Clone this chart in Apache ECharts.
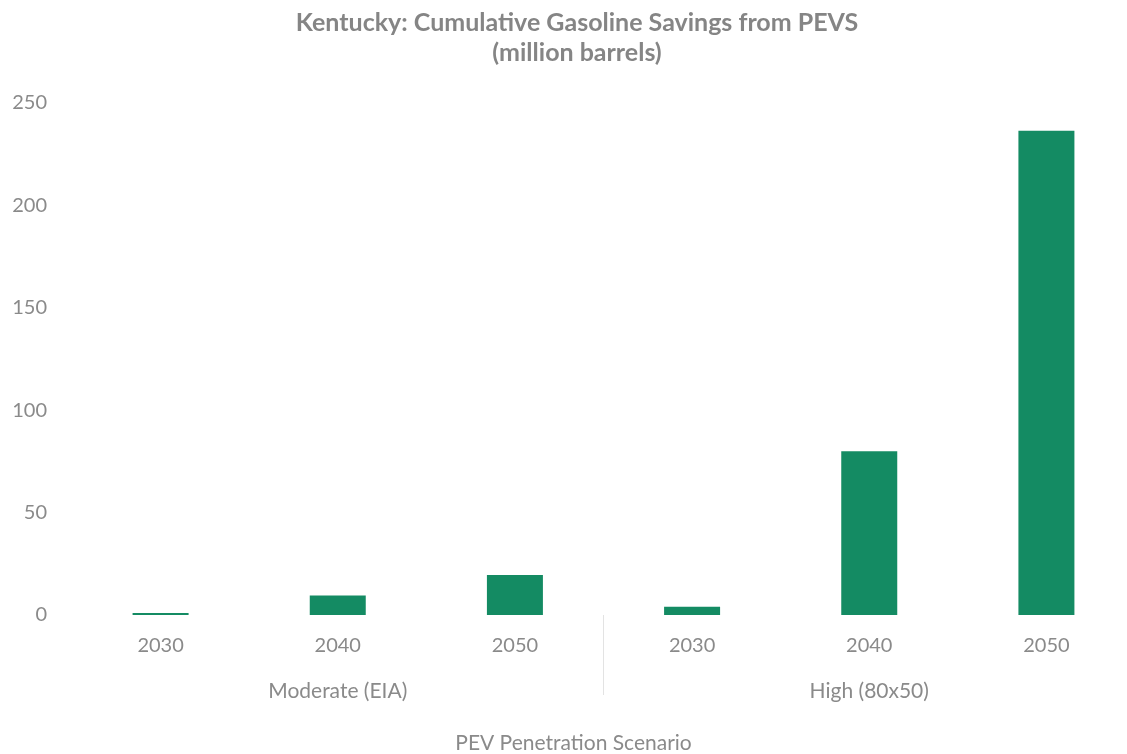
<!DOCTYPE html>
<html>
<head>
<meta charset="utf-8">
<title>Kentucky: Cumulative Gasoline Savings from PEVS</title>
<script src="https://cdn.jsdelivr.net/npm/echarts@6/dist/echarts.min.js"></script>
<style>
  html, body { margin: 0; padding: 0; background: #ffffff; overflow: hidden; }
  #chart { width: 100vw; height: 100vh; }
</style>
</head>
<body>
<div id="chart"></div>
<script>
// Years within each penetration scenario
const years = ['2030', '2040', '2050', '2030', '2040', '2050'];
// Scenario groups spanning three years each
const scenarios = ['Moderate (EIA)', 'High (80x50)'];
// Cumulative gasoline savings, million barrels
const savings = [1, 9.5, 19.5, 4, 80, 236.5];
// Value axis ticks
const yTicks = [0, 50, 100, 150, 200, 250];
// Boundary (in category slots) where the second scenario begins
const groupBreaks = [3];

const FONT = 'Lato';
const GREY = '#8a8a8a';

const chart = echarts.init(document.getElementById('chart'), null, { renderer: 'canvas' });

chart.setOption({
  backgroundColor: '#ffffff',
  animation: false,
  title: {
    text: 'Kentucky: Cumulative Gasoline Savings from PEVS\n(million barrels)',
    left: 572,
    top: 3,
    textAlign: 'center',
    textStyle: {
      fontFamily: FONT,
      fontWeight: 'bold',
      fontSize: 25,
      lineHeight: 30,
      color: '#858585'
    }
  },
  grid: {
    left: 72, right: -8, top: 103, bottom: 139,
    containLabel: false,
    outerBoundsMode: 'none'
  },
  xAxis: [
    {
      type: 'category',
      data: years,
      position: 'bottom',
      axisLine: { show: false },
      axisTick: { show: false },
      axisLabel: {
        margin: 21,
        fontFamily: FONT,
        fontSize: 20,
        color: GREY
      }
    },
    {
      type: 'category',
      data: scenarios,
      position: 'bottom',
      axisLine: { show: false },
      axisTick: { show: false },
      axisLabel: {
        margin: 66,
        fontFamily: FONT,
        fontSize: 21,
        color: GREY
      },
      name: 'PEV Penetration Scenario',
      nameLocation: 'middle',
      nameGap: 118,
      nameTextStyle: {
        fontFamily: FONT,
        fontSize: 21,
        color: GREY,
        padding: [0, 0, 0, -60]
      }
    },
    {
      // slot scale used only for the divider between scenario groups
      type: 'value',
      min: 0,
      max: years.length,
      position: 'bottom',
      axisLine: { show: false },
      splitLine: { show: false },
      axisLabel: { show: false },
      axisTick: {
        show: true,
        customValues: groupBreaks,
        length: 80,
        lineStyle: { color: '#e3e3e3', width: 1 }
      }
    }
  ],
  yAxis: {
    type: 'value',
    min: yTicks[0],
    max: yTicks[yTicks.length - 1],
    interval: 50,
    axisLine: { show: false },
    axisTick: { show: false },
    splitLine: { show: false },
    axisLabel: {
      margin: 25,
      fontFamily: FONT,
      fontSize: 20,
      color: GREY
    }
  },
  series: [
    {
      type: 'bar',
      xAxisIndex: 0,
      data: savings,
      barWidth: 56,
      itemStyle: { color: '#148b63' }
    }
  ]
});
</script>
</body>
</html>
